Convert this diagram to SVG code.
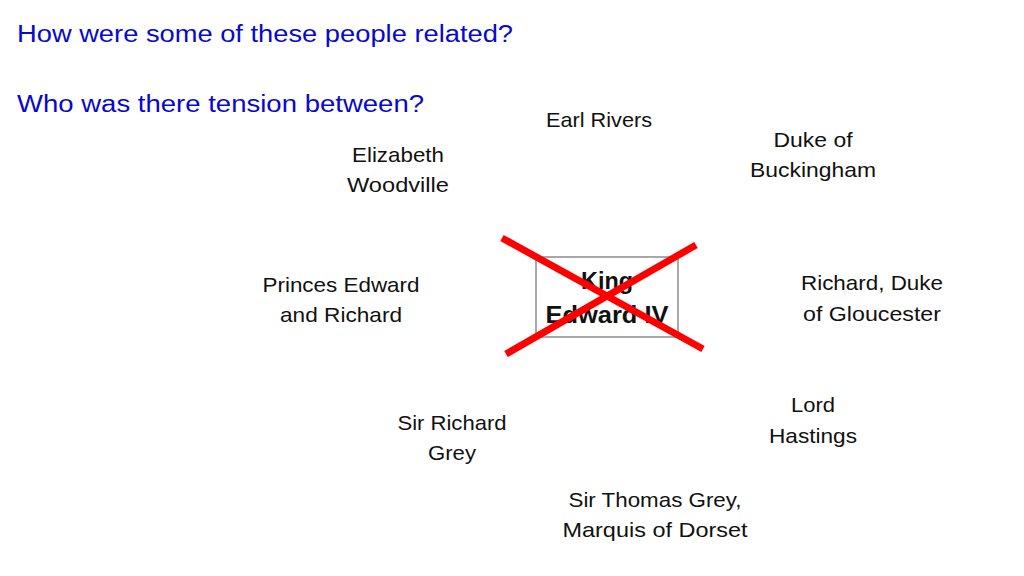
<svg xmlns="http://www.w3.org/2000/svg" width="1024" height="576" viewBox="0 0 1024 576">
<style>
text{font-family:"Liberation Sans",Arial,sans-serif;text-anchor:middle;}
.q{fill:#0808d0;font-size:23px;text-anchor:start;}
.n{fill:#111;font-size:21px;}
.k{fill:#111;font-size:24px;font-weight:bold;}
.box{fill:#fff;stroke:#8c8c8c;stroke-width:1.5;}
.x{stroke:#f00;stroke-width:7;stroke-linecap:butt;}
</style>
<rect width="1024" height="576" fill="#fff"/>
<g id="questions">
<text class="q" x="17" y="42" textLength="496" lengthAdjust="spacingAndGlyphs">How were some of these people related?</text>
<text class="q" x="17" y="112" textLength="407" lengthAdjust="spacingAndGlyphs">Who was there tension between?</text>
</g>
<g id="earl-rivers"><text class="n" x="599" y="127" textLength="106" lengthAdjust="spacingAndGlyphs">Earl Rivers</text></g>
<g id="elizabeth-woodville">
<text class="n" x="398" y="162" textLength="92" lengthAdjust="spacingAndGlyphs">Elizabeth</text>
<text class="n" x="398" y="192" textLength="102" lengthAdjust="spacingAndGlyphs">Woodville</text>
</g>
<g id="duke-of-buckingham">
<text class="n" x="813" y="147" textLength="79" lengthAdjust="spacingAndGlyphs">Duke of</text>
<text class="n" x="813" y="177" textLength="126" lengthAdjust="spacingAndGlyphs">Buckingham</text>
</g>
<g id="princes">
<text class="n" x="341" y="292" textLength="157" lengthAdjust="spacingAndGlyphs">Princes Edward</text>
<text class="n" x="341" y="322" textLength="122" lengthAdjust="spacingAndGlyphs">and Richard</text>
</g>
<g id="king-edward-iv">
<rect class="box" x="536" y="257" width="142" height="80"/>
<text class="k" x="607" y="289" textLength="52" lengthAdjust="spacingAndGlyphs">King</text>
<text class="k" x="607" y="323" textLength="123" lengthAdjust="spacingAndGlyphs">Edward IV</text>
</g>
<g id="richard-gloucester">
<text class="n" x="872" y="290" textLength="142" lengthAdjust="spacingAndGlyphs">Richard, Duke</text>
<text class="n" x="872" y="321" textLength="138" lengthAdjust="spacingAndGlyphs">of Gloucester</text>
</g>
<g id="sir-richard-grey">
<text class="n" x="452" y="430" textLength="109" lengthAdjust="spacingAndGlyphs">Sir Richard</text>
<text class="n" x="452" y="460" textLength="48" lengthAdjust="spacingAndGlyphs">Grey</text>
</g>
<g id="lord-hastings">
<text class="n" x="813" y="412" textLength="44" lengthAdjust="spacingAndGlyphs">Lord</text>
<text class="n" x="813" y="443" textLength="88" lengthAdjust="spacingAndGlyphs">Hastings</text>
</g>
<g id="thomas-grey">
<text class="n" x="655" y="507" textLength="173" lengthAdjust="spacingAndGlyphs">Sir Thomas Grey,</text>
<text class="n" x="655" y="537" textLength="185" lengthAdjust="spacingAndGlyphs">Marquis of Dorset</text>
</g>
<g id="connectors">
<line class="x" x1="502" y1="238" x2="703" y2="349"/>
<line class="x" x1="696" y1="245" x2="506" y2="354"/>
</g>
</svg>
